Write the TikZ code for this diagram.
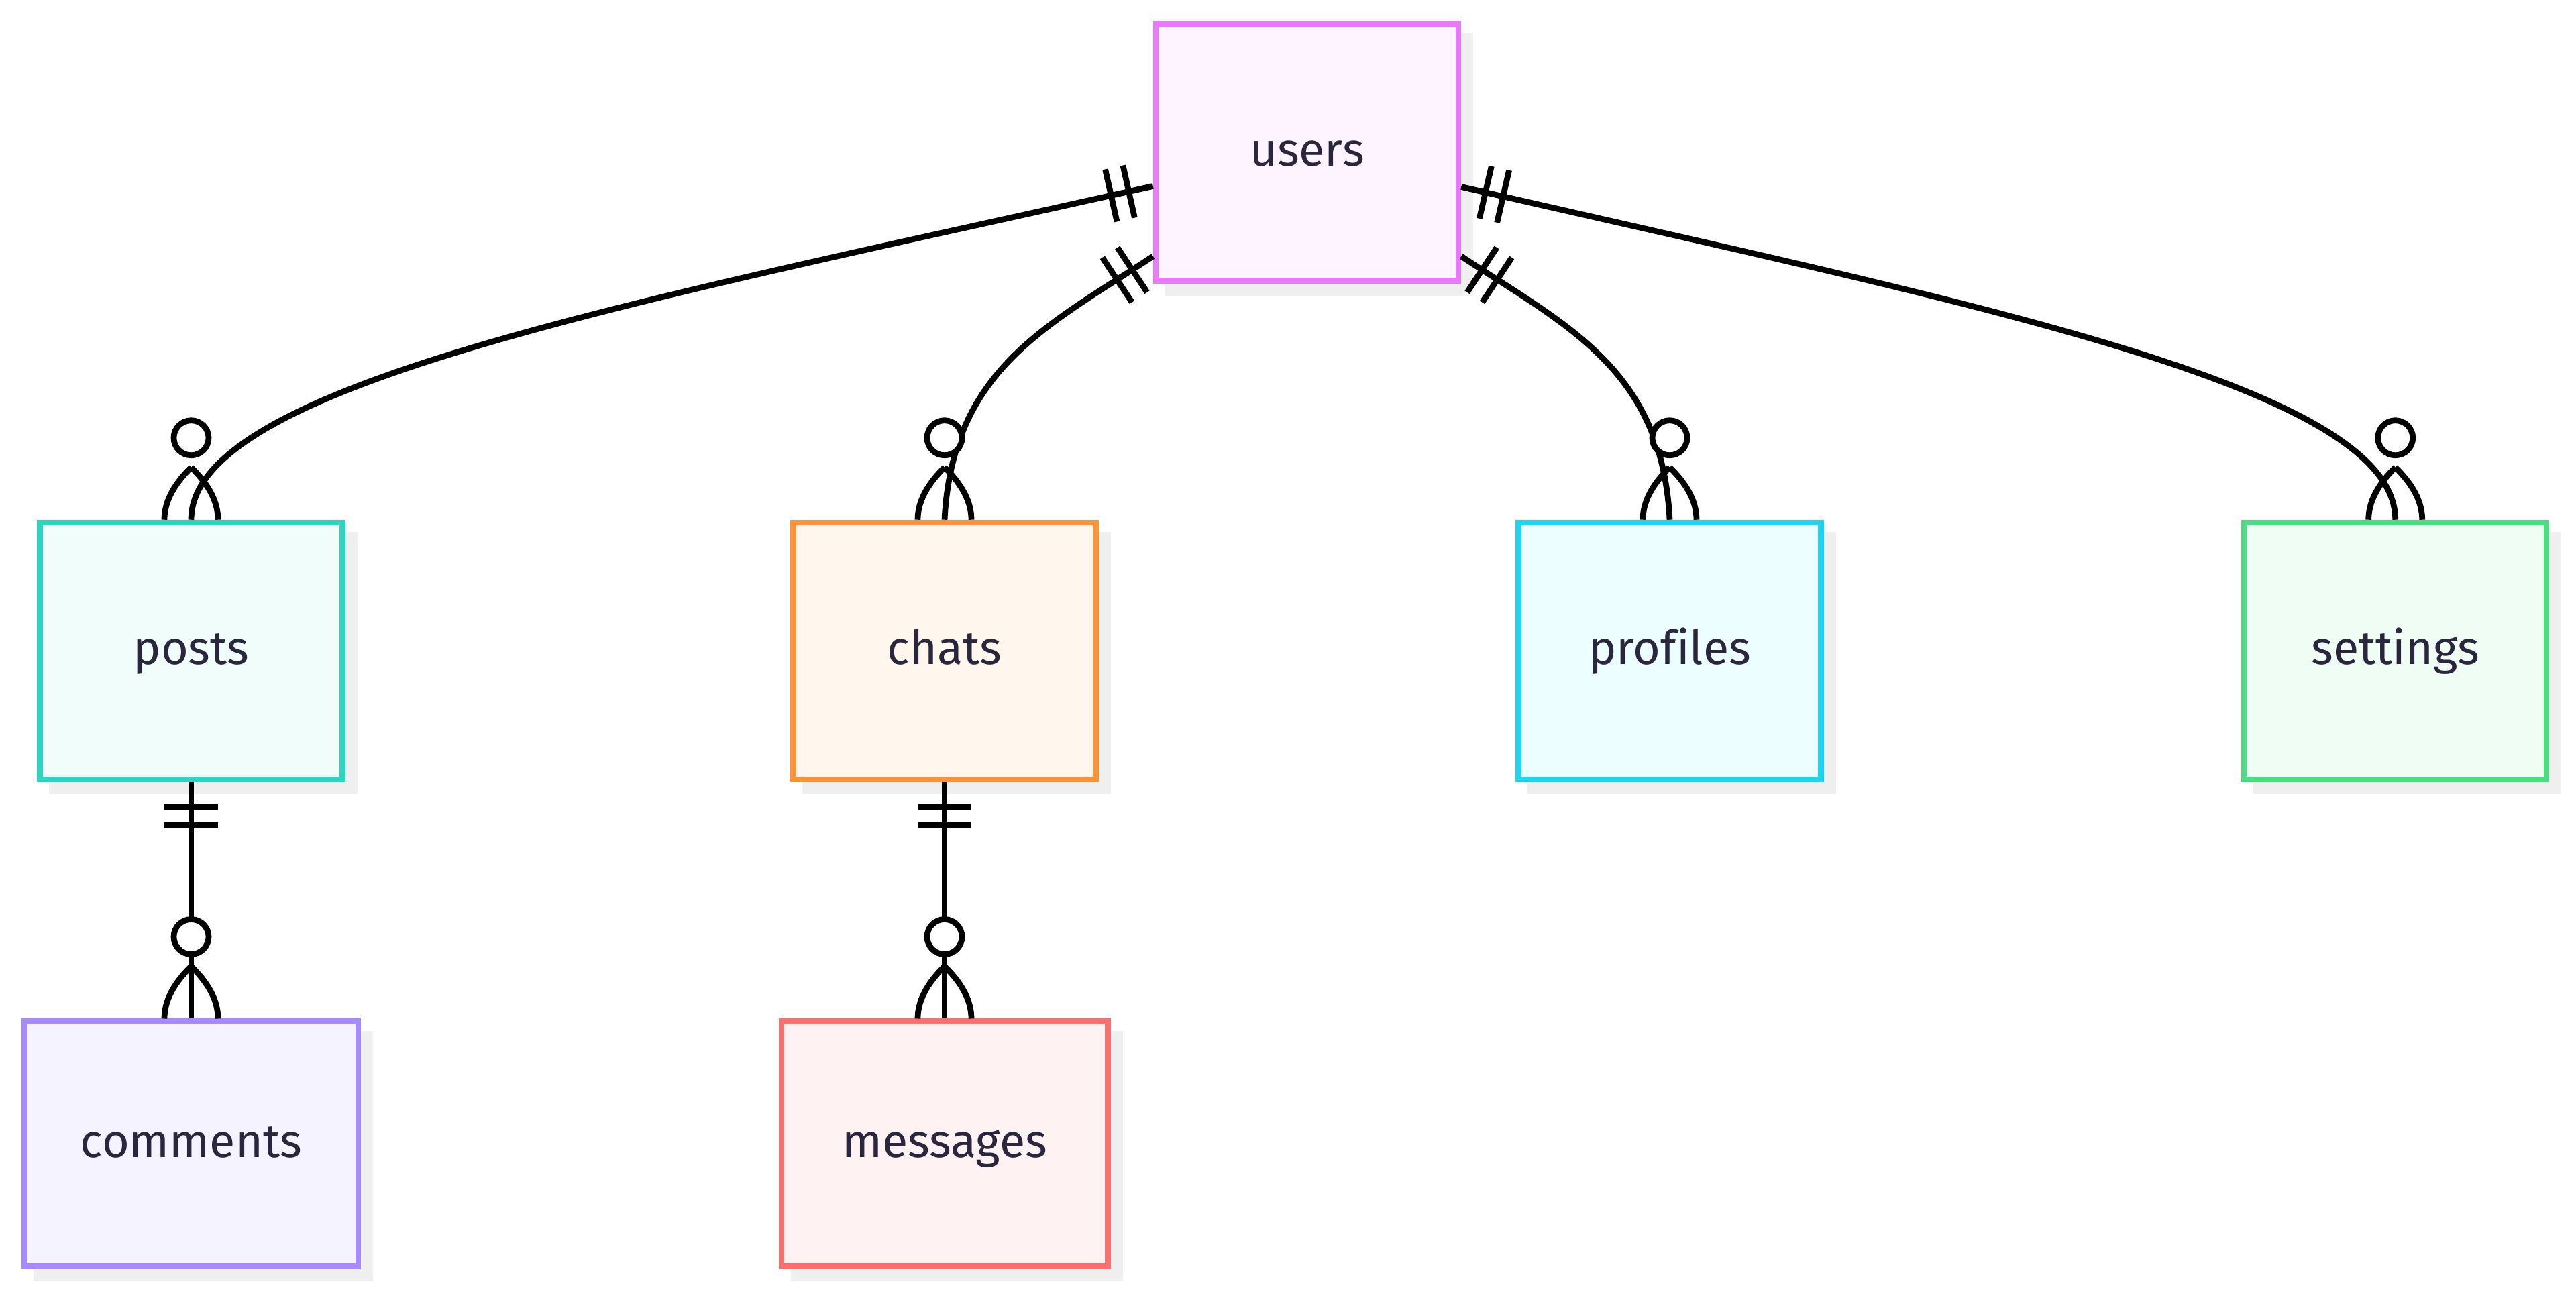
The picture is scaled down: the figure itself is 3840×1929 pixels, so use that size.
\documentclass[tikz,border=0pt]{standalone}
\usepackage{fontspec}
\setmainfont{Fira Sans}[Ligatures=CommonOff]
\usetikzlibrary{calc}
\pgfdeclarelayer{back}
\pgfsetlayers{back,main}
\definecolor{txt}{RGB}{42,38,62}
\definecolor{shadowc}{RGB}{239,239,239}
\definecolor{usersB}{HTML}{E879F9}\definecolor{usersF}{HTML}{FDF4FF}
\definecolor{postsB}{HTML}{2DD4BF}\definecolor{postsF}{HTML}{F0FDFA}
\definecolor{chatsB}{HTML}{FB923C}\definecolor{chatsF}{HTML}{FFF7ED}
\definecolor{profB}{HTML}{22D3EE}\definecolor{profF}{HTML}{ECFEFF}
\definecolor{setB}{HTML}{4ADE80}\definecolor{setF}{HTML}{F0FDF4}
\definecolor{comB}{HTML}{A78BFA}\definecolor{comF}{HTML}{F5F3FF}
\definecolor{msgB}{HTML}{F87171}\definecolor{msgF}{HTML}{FEF2F2}
\tikzset{
  ebox/.style={draw, rectangle, line width=1.7pt, minimum width=90.2pt,
    minimum height=76.6pt, inner sep=0pt, text=txt,
    font=\fontsize{14pt}{16pt}\selectfont, text height=10pt, text depth=1.8pt},
  wbox/.style={ebox, minimum height=72.9pt},
  edgeline/.style={draw=black, line width=1.75pt},
}
\newcommand\crowfoot[1]{%
  \coordinate (cf) at (#1.north);
  \draw[edgeline] ($(cf)+(0,-78)$) .. controls ($(cf)+(-26.7,-52)$) and ($(cf)+(-40,-26)$) .. ($(cf)+(-40,0)$);
  \draw[edgeline] ($(cf)+(0,-78)$) .. controls ($(cf)+(26.7,-52)$) and ($(cf)+(40,-26)$) .. ($(cf)+(40,0)$);
  \draw[edgeline, fill=white] ($(cf)+(0,-122)$) circle[radius=5.2pt];
}
\newcommand\onebars[2]{%
  \coordinate (oba) at ($(#1)!7.4pt!(#2)$);
  \coordinate (obb) at ($(#1)!12.8pt!(#2)$);
  \draw[edgeline] ($(oba)!8pt!90:(#2)$) -- ($(oba)!8pt!-90:(#2)$);
  \draw[edgeline] ($(obb)!8pt!90:(#2)$) -- ($(obb)!8pt!-90:(#2)$);
}
\begin{document}
\begin{tikzpicture}[x=0.2pt,y=-0.2pt]
\useasboundingbox (0,0) rectangle (3840,1929);
% entities
\node[ebox, draw=usersB, fill=usersF] (users) at (1948.5,227) {users};
\node[ebox, draw=postsB, fill=postsF] (posts) at (285,970.5) {posts};
\node[ebox, draw=chatsB, fill=chatsF] (chats) at (1408,970.5) {chats};
\node[ebox, draw=profB, fill=profF] (profiles) at (2489,970.5) {profiles};
\node[ebox, draw=setB, fill=setF] (settings) at (3570.7,970.5) {settings};
\node[wbox, draw=comB, fill=comF, minimum width=99.6pt] (comments) at (285,1705) {comments};
\node[wbox, draw=msgB, fill=msgF, minimum width=97.3pt] (messages) at (1408,1705) {messages};
% shadows
\begin{pgfonlayer}{back}
  \fill[white] (0,0) rectangle (3840,1929);
  \foreach \n in {users,posts,chats,profiles,settings,comments,messages}
    \fill[shadowc] ($(\n.south west)+(18,18)$) rectangle ($(\n.north east)+(18,18)$);
\end{pgfonlayer}
% start points on users
\coordinate (e1s) at ($(users.west)+(0,50.5)$);
\coordinate (e2s) at ($(users.west)+(0,155)$);
\coordinate (e3s) at ($(users.east)+(0,155)$);
\coordinate (e4s) at ($(users.east)+(0,51.5)$);
\coordinate (e1c) at (938,452);
\coordinate (e2c) at (1560.5,486.7);
\coordinate (e3c) at (2336.5,486.7);
\coordinate (e4c) at (2936.5,453);
% connectors
\draw[edgeline] (e1s) .. controls (e1c) and (285,575) .. (posts.north);
\draw[edgeline] (e2s) .. controls (e2c) and (1420,550) .. (chats.north);
\draw[edgeline] (e3s) .. controls (e3c) and (2477,550) .. (profiles.north);
\draw[edgeline] (e4s) .. controls (e4c) and (3570.7,575) .. (settings.north);
\draw[edgeline] (posts.south) -- (comments.north);
\draw[edgeline] (chats.south) -- (messages.north);
% one-and-only-one markers
\onebars{e1s}{e1c}
\onebars{e2s}{e2c}
\onebars{e3s}{e3c}
\onebars{e4s}{e4c}
\onebars{posts.south}{comments.north}
\onebars{chats.south}{messages.north}
% zero-or-more markers
\crowfoot{posts}
\crowfoot{chats}
\crowfoot{profiles}
\crowfoot{settings}
\crowfoot{comments}
\crowfoot{messages}
\end{tikzpicture}
\end{document}
